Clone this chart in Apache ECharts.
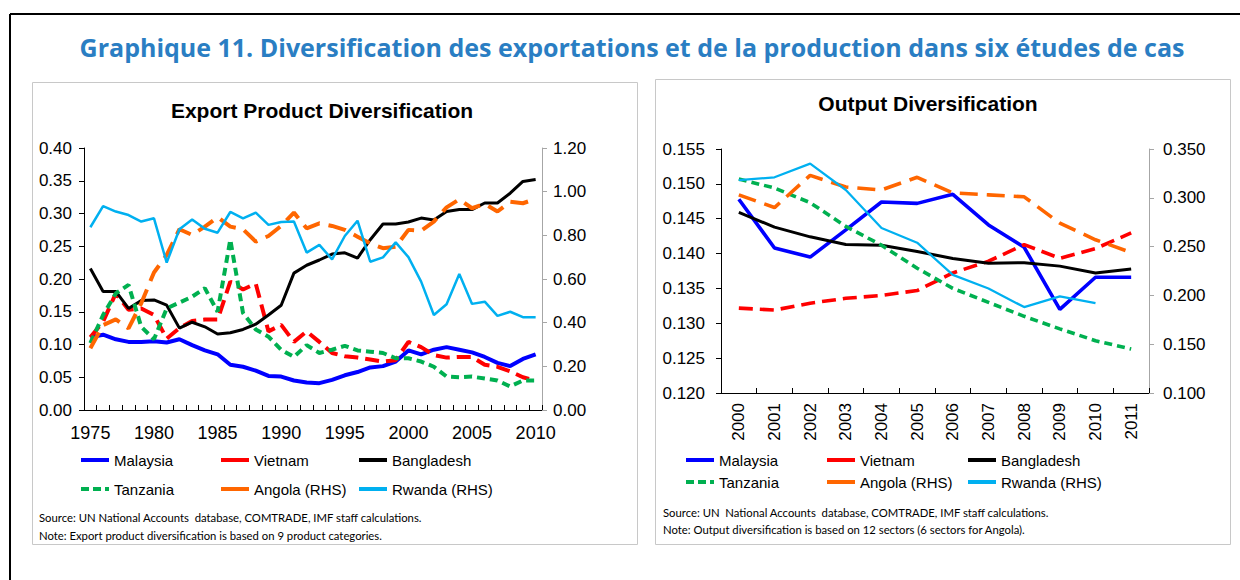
<!DOCTYPE html>
<html>
<head>
<meta charset="utf-8">
<script src="https://cdn.jsdelivr.net/npm/echarts@6/dist/echarts.min.js"></script>
<style>
  html, body { margin: 0; padding: 0; background: #fff; }
  #chart { width: 1240px; height: 580px; }
</style>
</head>
<body>
<div id="chart"></div>
<script>
// Export product diversification, 1975-2010
const exportYears = ['1975', '1976', '1977', '1978', '1979', '1980', '1981', '1982', '1983', '1984',
  '1985', '1986', '1987', '1988', '1989', '1990', '1991', '1992', '1993', '1994',
  '1995', '1996', '1997', '1998', '1999', '2000', '2001', '2002', '2003', '2004',
  '2005', '2006', '2007', '2008', '2009', '2010']

const malaysiaExport = [0.111, 0.115, 0.108, 0.104, 0.104, 0.105, 0.103, 0.108, 0.099, 0.091,
  0.085, 0.069, 0.066, 0.060, 0.052, 0.051, 0.045, 0.042, 0.041, 0.046,
  0.053, 0.058, 0.065, 0.067, 0.074, 0.091, 0.085, 0.092, 0.096, 0.092,
  0.088, 0.081, 0.072, 0.067, 0.078, 0.085]
const vietnamExport = [0.111, 0.135, 0.178, 0.153, 0.155, 0.145, 0.109, 0.125, 0.136, 0.138,
  0.138, 0.196, 0.184, 0.193, 0.120, 0.130, 0.104, 0.120, 0.104, 0.087,
  0.082, 0.080, 0.077, 0.074, 0.076, 0.104, 0.096, 0.084, 0.080, 0.081,
  0.081, 0.069, 0.066, 0.059, 0.050, 0.045]
const bangladeshExport = [0.216, 0.181, 0.181, 0.155, 0.167, 0.168, 0.160, 0.125, 0.134, 0.127,
  0.116, 0.118, 0.123, 0.131, 0.145, 0.160, 0.209, 0.221, 0.229, 0.238,
  0.240, 0.232, 0.260, 0.284, 0.284, 0.287, 0.293, 0.290, 0.303, 0.306,
  0.306, 0.316, 0.316, 0.331, 0.349, 0.352]
const tanzaniaExport = [0.102, 0.145, 0.178, 0.191, 0.127, 0.108, 0.155, 0.164, 0.173, 0.186,
  0.150, 0.260, 0.148, 0.123, 0.112, 0.092, 0.081, 0.099, 0.087, 0.092,
  0.098, 0.091, 0.089, 0.087, 0.079, 0.079, 0.074, 0.066, 0.051, 0.050,
  0.051, 0.048, 0.045, 0.036, 0.045, 0.045]
// RHS
const angolaExport = [0.283, 0.389, 0.415, 0.374, 0.489, 0.630, 0.710, 0.828, 0.802, 0.840,
  0.883, 0.840, 0.828, 0.771, 0.797, 0.843, 0.904, 0.832, 0.855, 0.843,
  0.825, 0.794, 0.763, 0.741, 0.748, 0.825, 0.821, 0.863, 0.928, 0.965,
  0.924, 0.944, 0.909, 0.954, 0.947, 0.967]
const rwandaExport = [0.837, 0.934, 0.909, 0.893, 0.863, 0.878, 0.675, 0.828, 0.873, 0.830,
  0.812, 0.907, 0.878, 0.904, 0.848, 0.861, 0.863, 0.721, 0.756, 0.690,
  0.797, 0.867, 0.679, 0.699, 0.768, 0.700, 0.588, 0.435, 0.484, 0.623,
  0.486, 0.496, 0.431, 0.450, 0.425, 0.425]

// Output diversification, 2000-2011
const outputYears = ['2000', '2001', '2002', '2003', '2004', '2005', '2006', '2007', '2008', '2009', '2010', '2011']
const malaysiaOutput = [0.1478, 0.1408, 0.1395, 0.1434, 0.1474, 0.1472, 0.1485, 0.1441, 0.1409, 0.1320, 0.1366, 0.1366]
const bangladeshOutput = [0.1459, 0.1438, 0.1424, 0.1413, 0.1412, 0.1403, 0.1393, 0.1386, 0.1387, 0.1382, 0.1372, 0.1378]
const tanzaniaOutput = [0.1507, 0.1494, 0.1473, 0.1439, 0.1412, 0.1379, 0.1350, 0.1330, 0.1310, 0.1292, 0.1275, 0.1263]
// RHS
const vietnamOutput = [0.187, 0.185, 0.192, 0.197, 0.200, 0.205, 0.223, 0.235, 0.252, 0.238, 0.248, 0.264]
const angolaOutput = [0.303, 0.290, 0.323, 0.311, 0.308, 0.321, 0.305, 0.303, 0.301, 0.274, 0.257, 0.244]
const rwandaOutput = [0.318, 0.321, 0.335, 0.308, 0.269, 0.254, 0.221, 0.207, 0.188, 0.199, 0.192, null]

const FONT = '"Liberation Sans", Arial, sans-serif'
const NOTE_FONT = 'Lato, "Open Sans", sans-serif'

const STYLES = {
  Malaysia: { color: '#0000FF', type: 'solid', width: 4 },
  Vietnam: { color: '#FF0000', type: [14, 7], width: 4 },
  Bangladesh: { color: '#000000', type: 'solid', width: 3 },
  Tanzania: { color: '#00B050', type: [8, 5], width: 4 },
  'Angola (RHS)': { color: '#FF6600', type: [18, 9], width: 4 },
  'Rwanda (RHS)': { color: '#00B0F0', type: 'solid', width: 2.5 }
}

const SOLID_ICON = 'path://M0,0H28V4H0Z'
const DASH_ICON = 'path://M0,0H8V4H0Z M12,0H20V4H12Z M24,0H28V4H24Z'

function makeSeries(name, data, xIdx, yIdx, widthScale) {
  const s = STYLES[name]
  return {
    name,
    type: 'line',
    xAxisIndex: xIdx,
    yAxisIndex: yIdx,
    data,
    symbol: 'none',
    smooth: false,
    silent: true,
    connectNulls: false,
    lineStyle: { color: s.color, type: s.type, width: s.width * widthScale },
    itemStyle: { color: s.color }
  }
}

function legendItem(name, textLeft, centerY) {
  return {
    left: textLeft - 32,
    top: centerY - 8.5,
    padding: 0,
    itemWidth: 28,
    itemHeight: 4,
    itemGap: 0,
    selectedMode: false,
    data: [{ name, icon: name === 'Tanzania' ? DASH_ICON : SOLID_ICON }],
    textStyle: { fontFamily: FONT, fontSize: 15, color: '#000' }
  }
}

function valueAxis(gridIndex, position, min, max, interval, digits, margin, lineColor, fontSize) {
  return {
    gridIndex,
    type: 'value',
    position,
    min,
    max,
    interval,
    axisLine: { show: true, lineStyle: { color: lineColor, width: 1 } },
    axisTick: { show: true, length: 5, lineStyle: { color: lineColor } },
    axisLabel: {
      formatter: v => v.toFixed(digits),
      margin,
      color: '#000',
      fontSize,
      fontFamily: FONT
    },
    splitLine: { show: false }
  }
}

const chart = echarts.init(document.getElementById('chart'), null, { renderer: 'svg' })

chart.setOption({
  animation: false,
  backgroundColor: '#fff',
  graphic: [
    // outer frame (top + left edges)
    { type: 'line', shape: { x1: 10, y1: 14, x2: 1240, y2: 14 }, style: { stroke: '#000', lineWidth: 2 } },
    { type: 'line', shape: { x1: 10, y1: 14, x2: 10, y2: 580 }, style: { stroke: '#000', lineWidth: 2 } },
    // panels
    { type: 'rect', shape: { x: 32.5, y: 82.5, width: 605, height: 462 }, style: { fill: 'none', stroke: '#C8C8C8', lineWidth: 1 } },
    { type: 'rect', shape: { x: 655.5, y: 79.5, width: 575, height: 465 }, style: { fill: 'none', stroke: '#C8C8C8', lineWidth: 1 } },
    {
      type: 'text', x: 632, y: 47,
      style: {
        text: 'Graphique 11. Diversification des exportations et de la production dans six études de cas',
        font: 'bold 25px "Open Sans", Lato, sans-serif', fill: '#2A7EC3', textAlign: 'center', textVerticalAlign: 'middle'
      }
    },
    {
      type: 'text', x: 322, y: 110,
      style: { text: 'Export Product Diversification', font: 'bold 21px ' + FONT, fill: '#000', textAlign: 'center', textVerticalAlign: 'middle' }
    },
    {
      type: 'text', x: 928, y: 103,
      style: { text: 'Output Diversification', font: 'bold 21px ' + FONT, fill: '#000', textAlign: 'center', textVerticalAlign: 'middle' }
    },
    {
      type: 'text', x: 39, y: 517,
      style: { text: 'Source: UN National Accounts  database, COMTRADE, IMF staff calculations.', font: '11.3px ' + NOTE_FONT, fill: '#000', textVerticalAlign: 'middle' }
    },
    {
      type: 'text', x: 39, y: 535,
      style: { text: 'Note: Export product diversification is based on 9 product categories.', font: '11.3px ' + NOTE_FONT, fill: '#000', textVerticalAlign: 'middle' }
    },
    {
      type: 'text', x: 663, y: 512,
      style: { text: 'Source: UN  National Accounts  database, COMTRADE, IMF staff calculations.', font: '11.3px ' + NOTE_FONT, fill: '#000', textVerticalAlign: 'middle' }
    },
    {
      type: 'text', x: 663, y: 529,
      style: { text: 'Note: Output diversification is based on 12 sectors (6 sectors for Angola).', font: '11.3px ' + NOTE_FONT, fill: '#000', textVerticalAlign: 'middle' }
    }
  ],
  legend: [
    legendItem('Malaysia', 113, 461),
    legendItem('Vietnam', 253, 461),
    legendItem('Bangladesh', 391, 461),
    legendItem('Tanzania', 113, 490),
    legendItem('Angola (RHS)', 253, 490),
    legendItem('Rwanda (RHS)', 391, 490),
    legendItem('Malaysia', 718, 461),
    legendItem('Vietnam', 859, 461),
    legendItem('Bangladesh', 1000, 461),
    legendItem('Tanzania', 718, 483),
    legendItem('Angola (RHS)', 859, 483),
    legendItem('Rwanda (RHS)', 1000, 483)
  ],
  grid: [
    { left: 84, top: 148, width: 458, height: 262 },
    { left: 721, top: 149, width: 428, height: 244 }
  ],
  xAxis: [
    {
      gridIndex: 0,
      type: 'category',
      data: exportYears,
      boundaryGap: true,
      axisLine: { lineStyle: { color: '#000', width: 1 } },
      axisTick: { show: true, inside: true, length: 5, interval: 0, lineStyle: { color: '#000' } },
      axisLabel: { interval: 4, color: '#000', fontSize: 18, margin: 14, fontFamily: FONT },
      splitLine: { show: false }
    },
    {
      gridIndex: 1,
      type: 'category',
      data: outputYears,
      boundaryGap: true,
      axisLine: { lineStyle: { color: '#000', width: 1 } },
      axisTick: { show: true, inside: true, length: 5, interval: 0, lineStyle: { color: '#000' } },
      axisLabel: { interval: 0, rotate: 90, color: '#000', fontSize: 17, margin: 10, fontFamily: FONT },
      splitLine: { show: false }
    }
  ],
  yAxis: [
    valueAxis(0, 'left', 0, 0.4, 0.05, 2, 12, '#000', 17),
    valueAxis(0, 'right', 0, 1.2, 0.2, 2, 11, '#A6A6A6', 17),
    valueAxis(1, 'left', 0.12, 0.155, 0.005, 3, 16, '#000', 17),
    valueAxis(1, 'right', 0.1, 0.35, 0.05, 3, 14, '#A6A6A6', 17)
  ],
  series: [
    makeSeries('Malaysia', malaysiaExport, 0, 0, 1),
    makeSeries('Vietnam', vietnamExport, 0, 0, 1),
    makeSeries('Bangladesh', bangladeshExport, 0, 0, 1),
    makeSeries('Tanzania', tanzaniaExport, 0, 0, 1),
    makeSeries('Angola (RHS)', angolaExport, 0, 1, 1),
    makeSeries('Rwanda (RHS)', rwandaExport, 0, 1, 1),
    makeSeries('Malaysia', malaysiaOutput, 1, 2, 0.9),
    makeSeries('Vietnam', vietnamOutput, 1, 3, 0.9),
    makeSeries('Bangladesh', bangladeshOutput, 1, 2, 1),
    makeSeries('Tanzania', tanzaniaOutput, 1, 2, 0.9),
    makeSeries('Angola (RHS)', angolaOutput, 1, 3, 0.9),
    makeSeries('Rwanda (RHS)', rwandaOutput, 1, 3, 0.9)
  ]
})
</script>
</body>
</html>
